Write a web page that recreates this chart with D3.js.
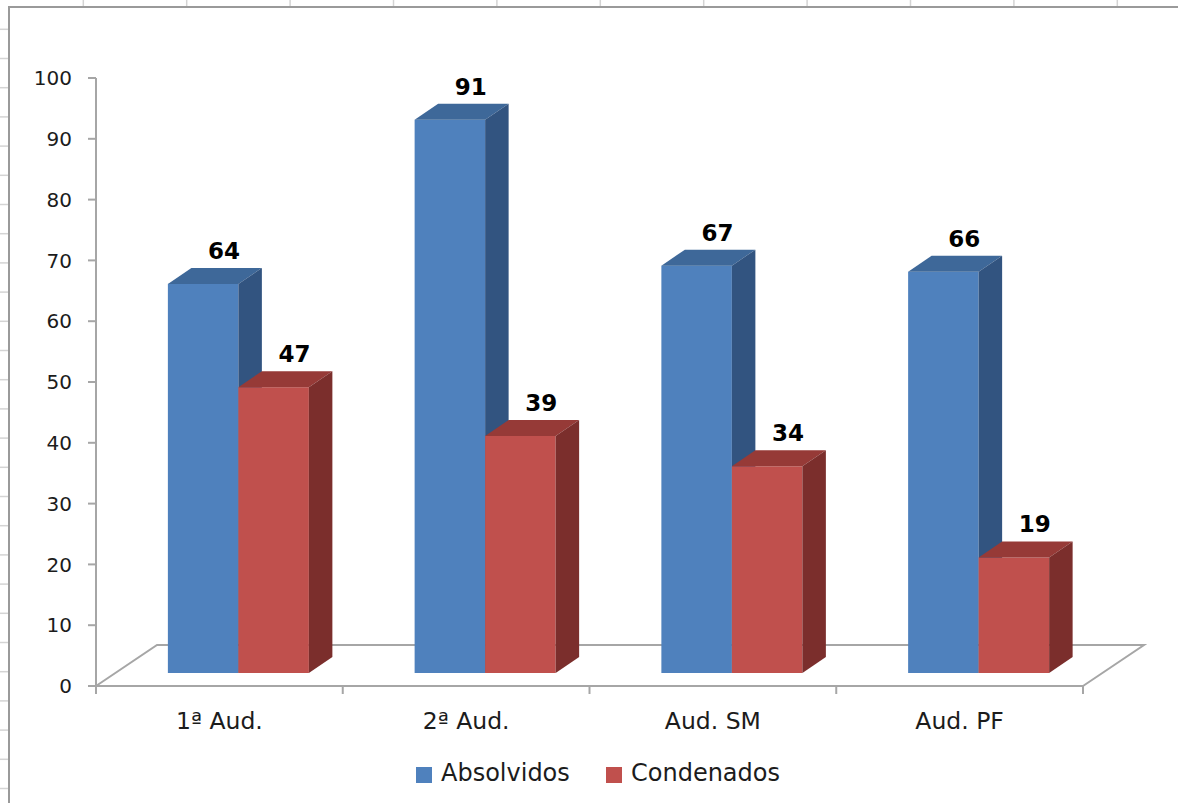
<!DOCTYPE html>
<html>
<head>
<meta charset="utf-8">
<script src="https://cdn.jsdelivr.net/npm/d3@7"></script>
<style>
  body { margin: 0; background: #fff; }
  svg { display: block; }
</style>
</head>
<body>
<svg width="1178" height="803"></svg>
<script>
/* Data */

var categories = ["1ª Aud.", "2ª Aud.", "Aud. SM", "Aud. PF"];
var series = ["Absolvidos", "Condenados"];
var absolvidos = [64, 91, 67, 66];
var condenados = [47, 39, 34, 19];
var yTicks = [0, 10, 20, 30, 40, 50, 60, 70, 80, 90, 100];

/* Setup */

var svg = d3.select("svg");
var w = +svg.attr("width"),
    h = +svg.attr("height");

var colors = {
  Absolvidos: { front: "#4f81bd", top: "#3e6899", side: "#325480" },
  Condenados: { front: "#c0504d", top: "#963a37", side: "#7b2e2c" }
};

var rows = categories.map((c, i) => ({
  cat: c,
  values: [
    { key: "Absolvidos", value: absolvidos[i] },
    { key: "Condenados", value: condenados[i] }
  ]
}));

// plot frame (front plane)
var plotL = 96, plotR = 1083, plotB = 686, plotT = 78;
// depth offsets: floor back, bar front plane, bar thickness
var floorD = { x: 61, y: -41 };
var barD = { x: 19, y: -13 };
var thick = { x: 23.5, y: -16 };

var y = d3.scaleLinear().domain([0, 100]).range([plotB, plotT]);
var x0 = d3.scaleBand().domain(categories).range([plotL, plotR]);
var x1 = d3.scaleBand().domain(series).range([0, x0.bandwidth()]).paddingOuter(0.75);

var axisColor = "#a6a6a6";
var textColor = "#1c1c1c";

/* Spreadsheet grid outside the chart */

var gridColor = "#d4d4d4";
svg.selectAll(".gcol")
  .data(d3.range(0, 11))
  .enter().append("line")
  .attr("x1", (d) => 83.3 + d * 103.4)
  .attr("x2", (d) => 83.3 + d * 103.4)
  .attr("y1", 0).attr("y2", 7)
  .attr("stroke", gridColor).attr("stroke-width", 1.5);

svg.selectAll(".grow")
  .data(d3.range(0, 28))
  .enter().append("line")
  .attr("x1", 0).attr("x2", 9)
  .attr("y1", (d) => 29.3 + d * 29.2)
  .attr("y2", (d) => 29.3 + d * 29.2)
  .attr("stroke", gridColor).attr("stroke-width", 1.5);

// chart area border
svg.append("path")
  .attr("d", `M9,${h + 5} L9,7 L${w + 5},7`)
  .attr("fill", "none")
  .attr("stroke", "#9a9a9a")
  .attr("stroke-width", 2);

/* Floor */

svg.append("path")
  .attr("d", `M${plotL},${plotB} L${plotL + floorD.x},${plotB + floorD.y} L${plotR + floorD.x},${plotB + floorD.y} L${plotR},${plotB}`)
  .attr("fill", "none")
  .attr("stroke", axisColor)
  .attr("stroke-width", 2);

/* Bars */

var bars = [];
rows.forEach((r) => {
  r.values.forEach((v) => {
    bars.push({
      cat: r.cat,
      key: v.key,
      value: v.value,
      x: x0(r.cat) + x1(v.key) + barD.x,
      w: x1.bandwidth(),
      yTop: y(v.value) + barD.y,
      yBot: y(0) + barD.y
    });
  });
});

// blue first so red covers its side
bars.sort((a, b) => series.indexOf(a.key) - series.indexOf(b.key));

var g = svg.selectAll(".bar")
  .data(bars)
  .enter().append("g")
  .classed("bar", true);

g.append("rect")
  .attr("x", (d) => d.x)
  .attr("y", (d) => d.yTop)
  .attr("width", (d) => d.w)
  .attr("height", (d) => d.yBot - d.yTop)
  .attr("fill", (d) => colors[d.key].front);

g.append("path")
  .attr("d", (d) => `M${d.x},${d.yTop} L${d.x + thick.x},${d.yTop + thick.y} L${d.x + d.w + thick.x},${d.yTop + thick.y} L${d.x + d.w},${d.yTop} Z`)
  .attr("fill", (d) => colors[d.key].top);

g.append("path")
  .attr("d", (d) => `M${d.x + d.w},${d.yTop} L${d.x + d.w + thick.x},${d.yTop + thick.y} L${d.x + d.w + thick.x},${d.yBot + thick.y} L${d.x + d.w},${d.yBot} Z`)
  .attr("fill", (d) => colors[d.key].side);

/* Axes */

// value axis
svg.append("line")
  .attr("x1", plotL).attr("x2", plotL)
  .attr("y1", plotT).attr("y2", plotB + 8)
  .attr("stroke", axisColor).attr("stroke-width", 2);

svg.selectAll(".ytick")
  .data(yTicks)
  .enter().append("line")
  .attr("x1", plotL - 8).attr("x2", plotL)
  .attr("y1", (d) => y(d)).attr("y2", (d) => y(d))
  .attr("stroke", axisColor).attr("stroke-width", 2);

svg.selectAll(".ylab")
  .data(yTicks)
  .enter().append("text")
  .attr("x", 72)
  .attr("y", (d) => y(d))
  .attr("dy", "0.36em")
  .attr("text-anchor", "end")
  .attr("font-family", "DejaVu Sans, Verdana, sans-serif")
  .attr("font-size", 20)
  .attr("fill", textColor)
  .text((d) => d);

// category axis
svg.append("line")
  .attr("x1", plotL).attr("x2", plotR)
  .attr("y1", plotB).attr("y2", plotB)
  .attr("stroke", axisColor).attr("stroke-width", 2);

svg.selectAll(".xtick")
  .data(categories.map((c) => x0(c)).concat([plotR]))
  .enter().append("line")
  .attr("x1", (d) => d).attr("x2", (d) => d)
  .attr("y1", plotB).attr("y2", plotB + 8)
  .attr("stroke", axisColor).attr("stroke-width", 2);

svg.selectAll(".xlab")
  .data(categories)
  .enter().append("text")
  .attr("x", (d) => x0(d) + x0.bandwidth() / 2)
  .attr("y", 729)
  .attr("text-anchor", "middle")
  .attr("font-family", "DejaVu Sans, Verdana, sans-serif")
  .attr("font-size", 23.5)
  .attr("fill", textColor)
  .text((d) => d);

/* Data labels */

svg.selectAll(".vlab")
  .data(bars)
  .enter().append("text")
  .attr("x", (d) => d.x + d.w / 2 + 21)
  .attr("y", (d) => d.yTop + thick.y - 9)
  .attr("text-anchor", "middle")
  .attr("font-family", "DejaVu Sans, Verdana, sans-serif")
  .attr("font-weight", "bold")
  .attr("font-size", 23)
  .attr("fill", "#000")
  .text((d) => d.value);

/* Legend */

var legendX = [416, 606];
var legend = svg.selectAll(".legend")
  .data(series)
  .enter().append("g")
  .classed("legend", true)
  .attr("transform", (d, i) => `translate(${legendX[i]},767)`);

legend.append("rect")
  .attr("width", 16).attr("height", 16)
  .attr("fill", (d) => colors[d].front);

legend.append("text")
  .attr("x", 25)
  .attr("y", 14)
  .attr("font-family", "DejaVu Sans, Verdana, sans-serif")
  .attr("font-size", 24)
  .attr("fill", textColor)
  .text((d) => d);
</script>
</body>
</html>
